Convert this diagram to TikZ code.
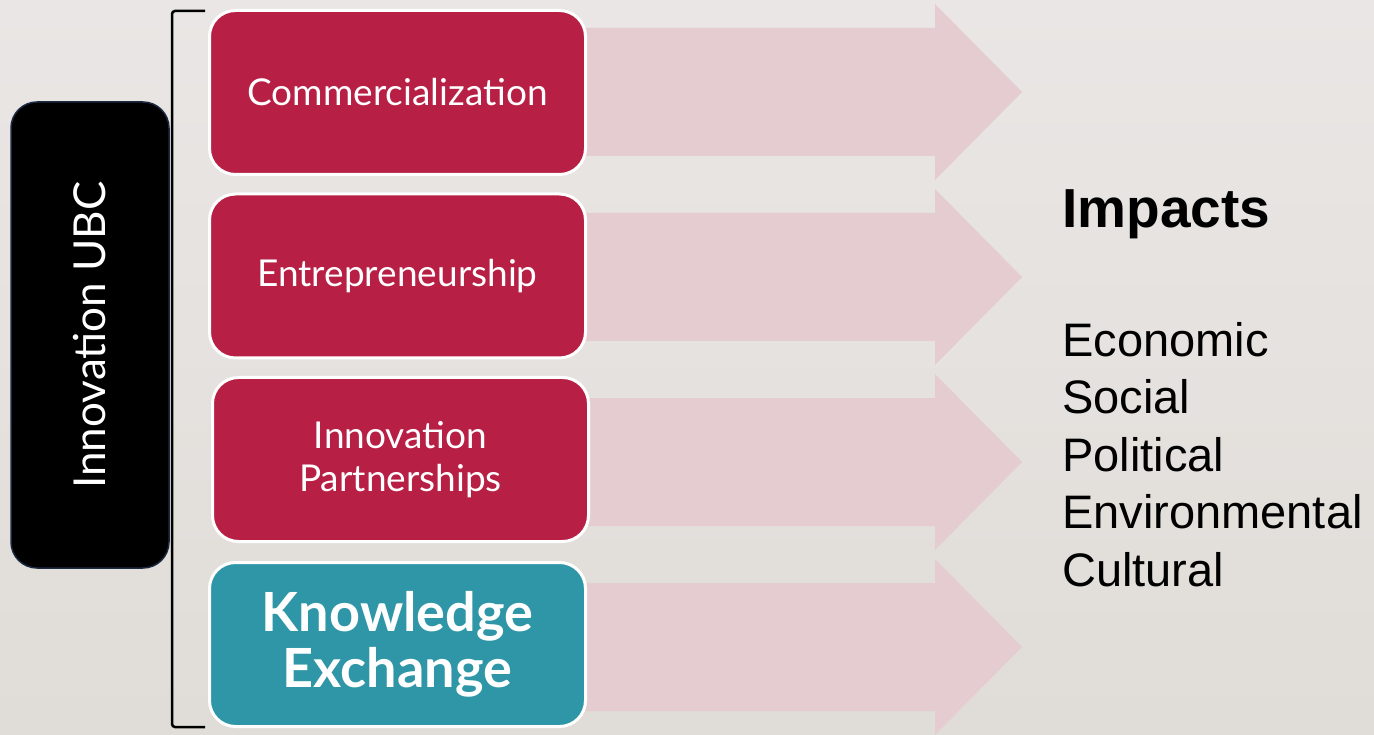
\documentclass[tikz,border=0pt]{standalone}
\usepackage{fontspec}
\setmainfont{Lato}
\newfontfamily\arialfont{Liberation Sans}
\definecolor{bgtop}{HTML}{E9E6E5}
\definecolor{bgbot}{HTML}{E0DDD8}
\definecolor{ubcred}{HTML}{B81F44}
\definecolor{ubcteal}{HTML}{2E96A6}
\definecolor{arrowpink}{HTML}{E5CCD0}
\definecolor{navyedge}{HTML}{1B2A41}
\tikzset{
  unitbox/.style={draw=white, line width=3pt, rounded corners=26pt, minimum width=376pt, minimum height=164pt, text=white, align=center, inner sep=0pt},
  redbox/.style={unitbox, fill=ubcred, font=\fontsize{37}{44}\selectfont},
  tealbox/.style={unitbox, fill=ubcteal, font=\fontsize{54}{56}\selectfont\bfseries},
  ubcbox/.style={fill=black, draw=navyedge, line width=1.5pt, rounded corners=26pt, minimum width=466pt, minimum height=158pt, text=white, inner sep=0pt, font=\fontsize{44}{50}\selectfont, rotate=90},
  pinkarrow/.style={fill=arrowpink},
  bracketline/.style={draw=black, line width=2.5pt, rounded corners=3pt},
  impacthead/.style={anchor=base west, inner sep=0pt, font=\arialfont\bfseries\fontsize{55}{60}\selectfont},
  impactitem/.style={anchor=base west, inner sep=0pt, font=\arialfont\fontsize{47}{57}\selectfont}
}
\begin{document}
\begin{tikzpicture}[x=1pt,y=-1pt]
\useasboundingbox (0,0) rectangle (1374,735);
\shade[top color=bgtop, bottom color=bgbot] (0,0) rectangle (1374,735);
% arrows
\foreach \c in {92,277,462,647}{
  \fill[pinkarrow] (560,{\c-64}) -- (935,{\c-64}) -- (935,{\c-88}) -- (1022,\c) -- (935,{\c+88}) -- (935,{\c+64}) -- (560,{\c+64}) -- cycle;
}
% left box
\node[ubcbox] (ubc) at (90,335) {Innovation UBC};
% bracket
\coordinate (btop) at (205,11);
\coordinate (bbot) at (205,727);
\draw[bracketline] (btop) -- (172,11) -- (172,727) -- (bbot);
% boxes
\node[redbox] (comm) at (397.5,92.5) {Commercialization};
\node[redbox] (entr) at (397.5,276) {Entrepreneurship};
\node[redbox] (part) at (400.5,459.5) {Innovation\\[-1pt]Partnerships};
\node[tealbox] (know) at (397.5,644.5) {Knowledge\\Exchange};
% impacts
\node[impacthead] (imp) at (1062,228) {Impacts};
\node[impactitem] (eco) at (1062,356) {Economic};
\node[impactitem] (soc) at (1062,413.5) {Social};
\node[impactitem] (pol) at (1062,471) {Political};
\node[impactitem] (env) at (1062,528.5) {Environmental};
\node[impactitem] (cul) at (1062,586) {Cultural};
\end{tikzpicture}
\end{document}
